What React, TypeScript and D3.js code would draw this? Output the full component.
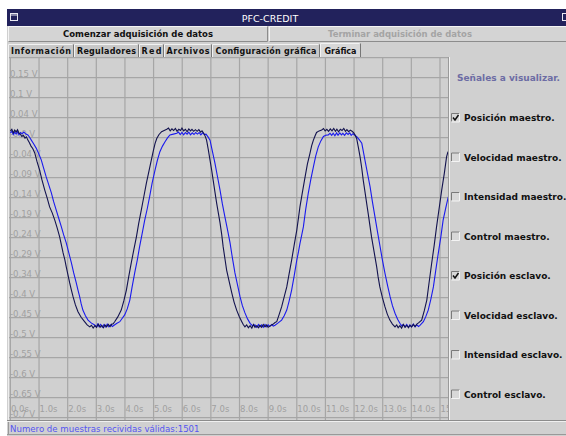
import React from "react";
import * as d3 from "d3";

// ---- data ----
const timeTicks = [0, 1, 2, 3, 4, 5, 6, 7, 8, 9, 10, 11, 12, 13, 14, 15];
const timeTickLabels = ["0.0s", "1.0s", "2.0s", "3.0s", "4.0s", "5.0s", "6.0s", "7.0s", "8.0s", "9.0s", "10.0s", "11.0s", "12.0s", "13.0s", "14.0s", "15"];
const voltTicks = [0.15, 0.1, 0.05, 0.0, -0.05, -0.1, -0.15, -0.2, -0.25, -0.3, -0.35, -0.4, -0.45, -0.5, -0.55, -0.6, -0.65, -0.7];
const voltTickLabels = ["0.15 V", "0.1 V", "0.04 V", "-0.0 V", "-0.04 V", "-0.09 V", "-0.14 V", "-0.19 V", "-0.24 V", "-0.29 V", "-0.34 V", "-0.4 V", "-0.45 V", "-0.5 V", "-0.55 V", "-0.6 V", "-0.65 V", "-0.7 V"];
const gridVolts = [0.2, 0.15, 0.1, 0.05, 0.0, -0.05, -0.1, -0.15, -0.2, -0.25, -0.3, -0.35, -0.4, -0.45, -0.5, -0.55, -0.6, -0.65, -0.7];

const posicionMaestro: [number, number][] = [
  [0.00,0.017],[0.05,0.021],[0.10,0.012],[0.15,0.019],[0.20,0.014],[0.25,0.020],[0.30,0.011],[0.35,0.009],[0.40,0.003],[0.45,0.006],[0.51,-0.001],[0.56,0.002],[0.61,-0.006],[0.66,-0.012],[0.72,-0.021],[0.78,-0.027],[0.85,-0.038],[0.93,-0.060],[1.02,-0.081],[1.10,-0.105],[1.20,-0.131],[1.28,-0.150],[1.37,-0.173],[1.46,-0.188],[1.55,-0.206],[1.63,-0.225],[1.72,-0.248],[1.78,-0.268],[1.84,-0.288],[1.90,-0.305],[1.95,-0.323],[2.01,-0.343],[2.07,-0.363],[2.13,-0.381],[2.19,-0.398],[2.27,-0.418],[2.36,-0.435],[2.47,-0.449],[2.59,-0.460],[2.68,-0.468],[2.77,-0.473],
  [2.83,-0.469],[2.89,-0.476],[2.95,-0.470],[3.01,-0.474],[3.07,-0.466],[3.13,-0.474],[3.19,-0.469],[3.25,-0.475],[3.30,-0.468],[3.36,-0.473],[3.42,-0.467],[3.48,-0.472],[3.54,-0.466],[3.59,-0.465],[3.64,-0.460],
  [3.75,-0.448],[3.87,-0.431],[3.96,-0.408],[4.05,-0.381],[4.13,-0.348],[4.22,-0.313],[4.31,-0.280],[4.40,-0.248],[4.48,-0.214],[4.57,-0.181],[4.66,-0.147],[4.75,-0.113],[4.84,-0.083],[4.92,-0.056],[4.99,-0.033],[5.05,-0.015],[5.11,-0.002],[5.19,0.008],[5.28,0.015],[5.37,0.018],[5.46,0.021],
  [5.52,0.024],[5.58,0.017],[5.64,0.022],[5.70,0.018],[5.76,0.023],[5.82,0.016],[5.88,0.021],[5.94,0.018],[5.99,0.024],[6.05,0.017],[6.11,0.021],[6.17,0.015],[6.23,0.022],[6.29,0.017],[6.34,0.021],[6.40,0.016],[6.46,0.020],[6.52,0.016],[6.58,0.020],[6.64,0.014],[6.69,0.017],[6.75,0.011],
  [6.80,0.004],[6.85,-0.006],[6.91,-0.030],[6.97,-0.056],[7.03,-0.082],[7.08,-0.106],[7.14,-0.135],[7.20,-0.163],[7.26,-0.188],[7.32,-0.213],[7.38,-0.243],[7.43,-0.273],[7.49,-0.302],[7.55,-0.331],[7.64,-0.360],[7.73,-0.388],[7.81,-0.411],[7.90,-0.431],[7.99,-0.447],[8.08,-0.460],[8.13,-0.467],[8.19,-0.473],
  [8.25,-0.468],[8.31,-0.475],[8.37,-0.470],[8.43,-0.476],[8.49,-0.467],[8.54,-0.474],[8.60,-0.470],[8.66,-0.475],[8.71,-0.469],[8.77,-0.474],[8.83,-0.467],[8.89,-0.473],[8.95,-0.468],[9.00,-0.474],[9.06,-0.471],[9.12,-0.468],[9.18,-0.466],[9.24,-0.462],[9.30,-0.460],
  [9.38,-0.443],[9.47,-0.423],[9.56,-0.398],[9.65,-0.373],[9.73,-0.341],[9.82,-0.306],[9.91,-0.268],[10.00,-0.231],[10.06,-0.200],[10.11,-0.173],[10.20,-0.135],[10.29,-0.098],[10.37,-0.066],[10.46,-0.039],[10.52,-0.020],[10.58,-0.006],[10.64,0.005],[10.69,0.013],[10.78,0.017],[10.87,0.019],
  [10.93,0.023],[10.99,0.017],[11.05,0.021],[11.11,0.016],[11.17,0.022],[11.23,0.017],[11.29,0.023],[11.35,0.016],[11.40,0.021],[11.46,0.015],[11.52,0.021],[11.58,0.018],[11.64,0.023],[11.70,0.016],[11.75,0.020],[11.81,0.015],[11.87,0.019],[11.93,0.016],[11.99,0.012],[12.04,0.006],
  [12.09,-0.002],[12.15,-0.024],[12.21,-0.048],[12.27,-0.077],[12.32,-0.106],[12.38,-0.135],[12.44,-0.164],[12.50,-0.193],[12.56,-0.223],[12.61,-0.248],[12.67,-0.273],[12.73,-0.298],[12.79,-0.323],[12.84,-0.348],[12.90,-0.373],[12.99,-0.400],[13.08,-0.423],[13.16,-0.441],[13.25,-0.456],[13.34,-0.466],[13.43,-0.473],
  [13.49,-0.468],[13.54,-0.475],[13.60,-0.470],[13.66,-0.476],[13.72,-0.467],[13.78,-0.474],[13.84,-0.469],[13.90,-0.475],[13.95,-0.469],[14.01,-0.473],[14.07,-0.467],[14.13,-0.472],[14.19,-0.466],[14.25,-0.463],
  [14.36,-0.456],[14.45,-0.433],[14.54,-0.406],[14.62,-0.362],[14.71,-0.314],[14.80,-0.268],[14.88,-0.223],[14.97,-0.177],[15.06,-0.131],[15.15,-0.090],[15.23,-0.048],[15.28,-0.035],
];

const posicionEsclavo: [number, number][] = [
  [0.00,0.012],[0.05,0.016],[0.10,0.008],[0.15,0.014],[0.20,0.009],[0.25,0.015],[0.30,0.007],[0.35,0.013],[0.41,0.010],[0.47,0.014],[0.54,0.009],[0.61,0.007],[0.67,0.001],[0.73,-0.006],[0.81,-0.015],[0.90,-0.026],[0.99,-0.040],[1.08,-0.056],[1.16,-0.076],[1.25,-0.098],[1.34,-0.118],[1.43,-0.138],[1.51,-0.160],[1.60,-0.181],[1.69,-0.202],[1.78,-0.223],[1.86,-0.243],[1.95,-0.263],[2.04,-0.288],[2.13,-0.313],[2.21,-0.338],[2.30,-0.363],[2.36,-0.381],[2.42,-0.398],[2.47,-0.415],[2.53,-0.431],[2.62,-0.445],[2.71,-0.456],[2.82,-0.463],[2.94,-0.468],
  [3.00,-0.473],[3.05,-0.466],[3.09,-0.472],[3.15,-0.467],[3.21,-0.474],[3.27,-0.467],[3.33,-0.473],[3.38,-0.466],[3.44,-0.473],[3.50,-0.468],[3.56,-0.472],[3.62,-0.469],[3.72,-0.464],
  [3.82,-0.460],[3.90,-0.452],[3.99,-0.443],[4.08,-0.428],[4.17,-0.406],[4.25,-0.373],[4.34,-0.338],[4.43,-0.306],[4.51,-0.273],[4.60,-0.240],[4.69,-0.206],[4.78,-0.177],[4.86,-0.148],[4.95,-0.113],[5.05,-0.081],[5.13,-0.057],[5.22,-0.035],[5.31,-0.021],[5.40,-0.010],[5.48,-0.001],[5.57,0.007],[5.69,0.009],[5.81,0.011],
  [5.87,0.014],[5.93,0.008],[5.99,0.013],[6.05,0.007],[6.11,0.013],[6.17,0.009],[6.23,0.014],[6.29,0.007],[6.35,0.012],[6.41,0.008],[6.47,0.013],[6.53,0.009],[6.59,0.013],[6.65,0.007],[6.71,0.012],[6.77,0.008],[6.83,0.009],[6.90,0.002],
  [6.97,-0.006],[7.05,-0.033],[7.14,-0.063],[7.23,-0.097],[7.32,-0.131],[7.40,-0.165],[7.49,-0.198],[7.58,-0.230],[7.67,-0.263],[7.75,-0.300],[7.84,-0.338],[7.93,-0.368],[8.02,-0.398],[8.10,-0.420],[8.19,-0.438],[8.28,-0.453],[8.37,-0.464],
  [8.45,-0.470],[8.54,-0.468],[8.60,-0.474],[8.66,-0.467],[8.71,-0.473],[8.77,-0.468],[8.83,-0.474],[8.89,-0.467],[8.95,-0.473],[9.00,-0.468],[9.06,-0.472],[9.12,-0.467],[9.18,-0.471],[9.24,-0.469],[9.35,-0.463],
  [9.47,-0.456],[9.56,-0.445],[9.65,-0.431],[9.73,-0.409],[9.82,-0.381],[9.91,-0.345],[10.00,-0.306],[10.06,-0.285],[10.11,-0.265],[10.17,-0.244],[10.23,-0.223],[10.31,-0.180],[10.40,-0.139],[10.49,-0.104],[10.58,-0.073],[10.66,-0.046],[10.75,-0.023],[10.84,-0.008],[10.93,0.003],[11.01,0.006],[11.10,0.007],
  [11.16,0.011],[11.22,0.006],[11.27,0.011],[11.33,0.005],[11.39,0.012],[11.44,0.006],[11.50,0.012],[11.56,0.007],[11.61,0.011],[11.67,0.006],[11.73,0.012],[11.79,0.008],[11.85,0.012],[11.90,0.006],[11.96,0.010],[12.03,0.006],[12.10,0.002],
  [12.18,-0.005],[12.27,-0.014],[12.32,-0.033],[12.38,-0.056],[12.47,-0.090],[12.56,-0.123],[12.64,-0.160],[12.73,-0.198],[12.82,-0.236],[12.91,-0.273],[12.99,-0.306],[13.08,-0.339],[13.17,-0.370],[13.26,-0.398],[13.34,-0.420],[13.43,-0.439],[13.52,-0.454],[13.60,-0.464],
  [13.66,-0.470],[13.72,-0.467],[13.78,-0.473],[13.84,-0.467],[13.90,-0.474],[13.95,-0.468],[14.01,-0.473],[14.07,-0.466],[14.13,-0.473],[14.19,-0.468],[14.25,-0.472],[14.30,-0.469],
  [14.42,-0.460],[14.50,-0.448],[14.59,-0.431],[14.68,-0.404],[14.77,-0.373],[14.85,-0.333],[14.94,-0.289],[15.03,-0.248],[15.11,-0.206],[15.20,-0.176],[15.29,-0.148],
];

const tabLabels = ["Información", "Reguladores", "Red", "Archivos", "Configuración gráfica", "Gráfica"];
const signalLabels = ["Posición maestro.", "Velocidad maestro.", "Intensidad maestro.", "Control maestro.", "Posición esclavo.", "Velocidad esclavo.", "Intensidad esclavo.", "Control esclavo."];
const signalChecked = [true, false, false, false, true, false, false, false];
const sampleCount = 1501;

// ---- layout ----
const W = 566, H = 436;
const BG = "#d0d0d0";
const plot = { x0: 9, x1: 449, y0: 57, y1: 420 };
const tabEdges = [8, 74, 139, 164, 212, 320, 361];
const tabTextWidths = [60, 59, 20, 43, 101, 32];

export default function App() {
  const x = d3.scaleLinear().domain([0, 15.28]).range([10.4, 448]);
  const y = d3.scaleLinear().domain([0.2, -0.7]).range([57.7, 417.7]);
  const line = d3.line<[number, number]>().x((d) => x(d[0])).y((d) => y(d[1]));
  const sans = "'DejaVu Sans', sans-serif";

  return (
    <svg width={W} height={H} style={{ position: "absolute", left: 0, top: 0, display: "block" }}>
      <rect x={0} y={0} width={W} height={H} fill="#ffffff" />
      {/* window */}
      <rect x={7} y={9} width={W - 7} height={H - 9} fill={BG} />
      {/* title bar */}
      <rect x={7} y={9} width={W - 7} height={17} fill="#22225c" />
      <rect x={10.5} y={13.5} width={7} height={7} fill="none" stroke="#e8e8f0" strokeWidth={1} />
      <line x1={11} y1={15} x2={17} y2={15} stroke="#e8e8f0" />
      <rect x={562.5} y={13.5} width={6} height={7} fill="none" stroke="#e8e8f0" strokeWidth={1} />
      <text x={270} y={21.5} fill="#ffffff" fontFamily={sans} fontSize={9.5} textAnchor="middle">PFC-CREDIT</text>

      {/* buttons */}
      {[[8, 268], [269, 567]].map(([a, b], i) => (
        <g key={"btn" + i}>
          <rect x={a} y={26} width={b - a} height={16} fill="#d4d4d4" />
          <path d={`M${a + 0.5},${41.5} V${26.5} H${b - 0.5}`} stroke="#f4f4f4" fill="none" />
          <path d={`M${a + 0.5},${41.5} H${b - 0.5} V${26.5}`} stroke="#8c8c8c" fill="none" />
        </g>
      ))}
      <text x={138} y={37} fontFamily={sans} fontSize={8.5} fontWeight="bold" fill="#111" textAnchor="middle" textLength={150} lengthAdjust="spacing">Comenzar adquisición de datos</text>
      <text x={400} y={37} fontFamily={sans} fontSize={8.5} fontWeight="bold" fill="#a4a4a4" textAnchor="middle" textLength={144} lengthAdjust="spacing">Terminar adquisición de datos</text>

      {/* tabs */}
      {tabLabels.map((t, i) => {
        const a = tabEdges[i], b = tabEdges[i + 1];
        const sel = i === tabLabels.length - 1;
        return (
          <g key={t}>
            <rect x={a} y={sel ? 43 : 44} width={b - a} height={sel ? 14 : 13} fill={sel ? "#d8d8d8" : "#c8c8c8"} />
            <path d={`M${a + 0.5},57 V${(sel ? 43 : 44) + 0.5} H${b - 1.5}`} stroke="#f2f2f2" fill="none" />
            <path d={`M${b - 0.5},${sel ? 43.5 : 44.5} V57`} stroke="#777" fill="none" />
            <text x={(a + b) / 2} y={53.5} fontFamily={sans} fontSize={8} fontWeight="bold" fill="#111" textAnchor="middle" textLength={tabTextWidths[i]} lengthAdjust="spacing">{t}</text>
          </g>
        );
      })}

      {/* plot */}
      <defs>
        <clipPath id="plotclip">
          <rect x={plot.x0} y={plot.y0} width={plot.x1 - plot.x0} height={plot.y1 - plot.y0} />
        </clipPath>
      </defs>
      <rect x={plot.x0} y={plot.y0} width={plot.x1 - plot.x0} height={plot.y1 - plot.y0} fill={BG} />
      <g clipPath="url(#plotclip)">
        {gridVolts.map((v) => (
          <line key={"h" + v} x1={plot.x0} x2={plot.x1} y1={y(v)} y2={y(v)} stroke="#a6a6a6" strokeWidth={1.2} />
        ))}
        {timeTicks.map((t) => (
          <line key={"v" + t} x1={x(t)} x2={x(t)} y1={plot.y0} y2={plot.y1} stroke="#a6a6a6" strokeWidth={1.2} />
        ))}
        {voltTicks.map((v, i) => (
          <text key={"yl" + i} x={10} y={y(v) - 1} fontFamily={sans} fontSize={8.5} fill="#a0a0a0">{voltTickLabels[i]}</text>
        ))}
        {timeTicks.map((t, i) => (
          <text key={"xl" + i} x={x(t) + 0.5} y={411.5} fontFamily={sans} fontSize={8.5} fill="#a0a0a0">{timeTickLabels[i]}</text>
        ))}
        <path d={line(posicionEsclavo) || ""} fill="none" stroke="#1a1aee" strokeWidth={1.1} />
        <path d={line(posicionMaestro) || ""} fill="none" stroke="#12124e" strokeWidth={1.1} />
      </g>
      <line x1={8.5} x2={8.5} y1={57} y2={420} stroke="#eeeeee" />

      {/* right panel */}
      <rect x={449} y={57} width={W - 449} height={363} fill={BG} />
      <line x1={449.5} x2={449.5} y1={57} y2={420} stroke="#f2f2f2" />
      <line x1={448.5} x2={448.5} y1={57} y2={420} stroke="#9a9a9a" />
      <text x={457} y={81} fontFamily={sans} fontSize={9} fontWeight="bold" fill="#6c6ca4">Señales a visualizar.</text>
      {signalLabels.map((s, i) => {
        const cy = 117.5 + i * 39.5;
        return (
          <g key={s}>
            <rect x={451} y={cy - 4.5} width={9} height={9} fill="#d8d8d8" />
            <path d={`M451.5,${cy + 4} V${cy - 4} H459.5`} stroke="#7a7a7a" fill="none" />
            <path d={`M451.5,${cy + 4.5} H459.5 V${cy - 4}`} stroke="#f4f4f4" fill="none" />
            {signalChecked[i] && (
              <path d={`M453,${cy} l2,2.5 l3.5,-5`} stroke="#111" strokeWidth={1.5} fill="none" />
            )}
            <text x={464} y={cy + 3.5} fontFamily={sans} fontSize={9} fontWeight="bold" fill="#111">{s}</text>
          </g>
        );
      })}

      {/* status bar */}
      <line x1={7} x2={W} y1={420.5} y2={420.5} stroke="#8c8c8c" />
      <line x1={7} x2={W} y1={421.5} y2={421.5} stroke="#f0f0f0" />
      <line x1={8.5} x2={8.5} y1={422} y2={434} stroke="#999" />
      <line x1={7} x2={W} y1={434.5} y2={434.5} stroke="#999" />
      <text x={10} y={431.5} fontFamily={sans} fontSize={8.6} fill="#5555f0">{`Numero de muestras recividas válidas:${sampleCount}`}</text>
    </svg>
  );
}
